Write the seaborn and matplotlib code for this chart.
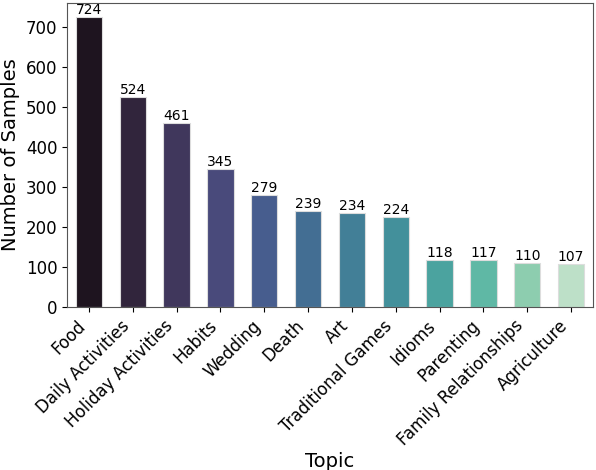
import pandas as pd
import matplotlib
matplotlib.use("Agg")
import matplotlib.pyplot as plt
import seaborn as sns

topics = ["Food", "Daily Activities", "Holiday Activities", "Habits", "Wedding",
          "Death", "Art", "Traditional Games", "Idioms", "Parenting",
          "Family Relationships", "Agriculture"]
counts = [724, 524, 461, 345, 279, 239, 234, 224, 118, 117, 110, 107]

df = pd.DataFrame({"Topic": topics, "Samples": counts})

sns.set_style("ticks", {"text.color": "black", "axes.labelcolor": "black",
                        "xtick.color": "black", "ytick.color": "black",
                        "axes.edgecolor": "#555555"})
plt.rcParams['font.family'] = ['DejaVu Sans']

fig = plt.figure(figsize=(5.96, 4.70), dpi=100)
ax = fig.add_axes([67 / 596, 1 - 307 / 470, 526 / 596, 304 / 470])

sns.barplot(data=df, x="Topic", y="Samples", hue="Topic", palette="mako",
            width=0.6, legend=False, edgecolor="#dddddd", linewidth=0.8, ax=ax)

for container in ax.containers:
    ax.bar_label(container, fontsize=10, padding=0)

ax.set_ylim(0, max(counts) * 1.05)
ax.set_xlabel("Topic", fontsize=14, labelpad=2)
ax.set_ylabel("Number of Samples", fontsize=14)
ax.tick_params(axis="both", labelsize=12)
plt.setp(ax.get_xticklabels(), rotation=45, ha="right")

fig.savefig("out.png", dpi=100)
